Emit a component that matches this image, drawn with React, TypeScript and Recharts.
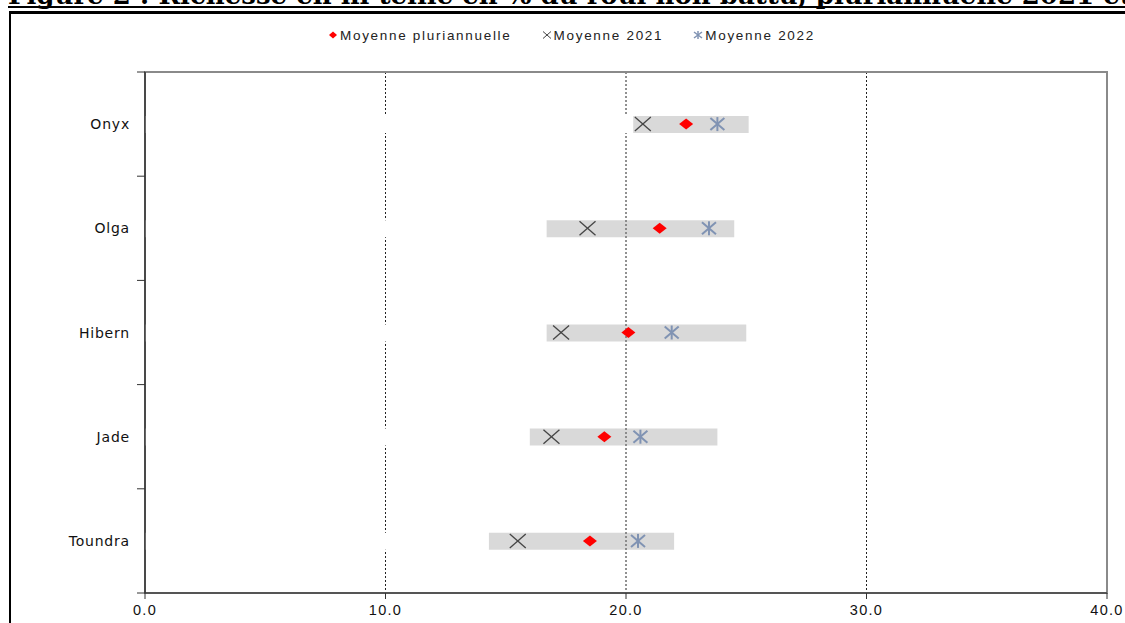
import React from 'react';
import { ComposedChart, Bar, Line, XAxis, YAxis, CartesianGrid, ReferenceArea } from 'recharts';

const categories = ['Onyx', 'Olga', 'Hibern', 'Jade', 'Toundra'];
const minValues = [20.3, 16.7, 16.7, 16.0, 14.3];
const maxValues = [25.1, 24.5, 25.0, 23.8, 22.0];
const pluriValues = [22.5, 21.4, 20.1, 19.1, 18.5];
const m2021Values = [20.7, 18.4, 17.3, 16.9, 15.5];
const m2022Values = [23.8, 23.45, 21.9, 20.6, 20.5];
const xTicks = [0, 10, 20, 30, 40];

const legendLabels = ['Moyenne pluriannuelle', 'Moyenne 2021', 'Moyenne 2022'];
const titleText = 'Figure 2 : Richesse en fil teillé en % du roui non battu, pluriannuelle 2021 et 2022';

const data = categories.map((c, i) => ({
  name: c,
  base: minValues[i],
  range: +(maxValues[i] - minValues[i]).toFixed(2),
  pluri: pluriValues[i],
  m2021: m2021Values[i],
  m2022: m2022Values[i],
}));

const W = 1125;
const H = 623;
const MARGIN = { top: 72, right: 18, bottom: 0, left: 10 };
const XAXIS_H = 30;
const BAND = (H - MARGIN.top - MARGIN.bottom - XAXIS_H) / categories.length;

const STAR_COLOR = '#8093b3';
const X_COLOR = '#454545';

const DiamondDot = (p: any) => {
  const { cx, cy } = p;
  if (cx == null || cy == null) return null;
  return <polygon points={`${cx - 7},${cy} ${cx},${cy - 5.5} ${cx + 7},${cy} ${cx},${cy + 5.5}`} fill="#ff0000" />;
};

const CrossDot = (p: any) => {
  const { cx, cy } = p;
  if (cx == null || cy == null) return null;
  return (
    <g stroke={X_COLOR} strokeWidth={1.3}>
      <line x1={cx - 8} y1={cy - 7} x2={cx + 8} y2={cy + 7} />
      <line x1={cx - 8} y1={cy + 7} x2={cx + 8} y2={cy - 7} />
    </g>
  );
};

const StarDot = (p: any) => {
  const { cx, cy } = p;
  if (cx == null || cy == null) return null;
  return (
    <g stroke={STAR_COLOR} strokeWidth={2}>
      <line x1={cx} y1={cy - 7} x2={cx} y2={cy + 7} />
      <line x1={cx - 7} y1={cy - 6} x2={cx + 7} y2={cy + 6} />
      <line x1={cx - 7} y1={cy + 6} x2={cx + 7} y2={cy - 6} />
    </g>
  );
};

const YTick = (p: any) => {
  const { x, y, payload, index } = p;
  const half = BAND / 2;
  return (
    <g>
      <text
        x={x}
        y={y}
        dy={5}
        textAnchor="end"
        fontFamily="'DejaVu Sans', sans-serif"
        fontSize={14}
        letterSpacing={0.8}
        fill="#111"
      >
        {payload.value}
      </text>
      <line x1={x + 7} x2={x + 15} y1={y - half} y2={y - half} stroke="#333" strokeWidth={1} />
      {index === categories.length - 1 ? (
        <line x1={x + 7} x2={x + 15} y1={y + half} y2={y + half} stroke="#333" strokeWidth={1} />
      ) : null}
    </g>
  );
};

const LegendIcon = ({ kind }: { kind: number }) => {
  if (kind === 0)
    return (
      <svg width={10} height={10}>
        <polygon points="1,5 5,1.5 9,5 5,8.5" fill="#ff0000" />
      </svg>
    );
  if (kind === 1)
    return (
      <svg width={10} height={10}>
        <g stroke={X_COLOR} strokeWidth={1}>
          <line x1={1} y1={1.5} x2={9} y2={8.5} />
          <line x1={1} y1={8.5} x2={9} y2={1.5} />
        </g>
      </svg>
    );
  return (
    <svg width={10} height={10}>
      <g stroke={STAR_COLOR} strokeWidth={1.5}>
        <line x1={5} y1={1} x2={5} y2={9} />
        <line x1={1} y1={2} x2={9} y2={8} />
        <line x1={1} y1={8} x2={9} y2={2} />
      </g>
    </svg>
  );
};

export default function App() {
  return (
    <div style={{ position: 'absolute', left: 0, top: 0, width: W, height: H, overflow: 'hidden', background: '#fff' }}>
      <svg style={{ position: 'absolute', left: 0, top: 0 }} width={W} height={12}>
        <text x={8} y={4} fontFamily="'DejaVu Serif', serif" fontWeight="bold" fontSize={26} fill="#000">
          {titleText}
        </text>
        <rect x={8} y={6} width={W} height={2} fill="#000" />
      </svg>
      <div style={{ position: 'absolute', left: 9, top: 11, width: W, height: 3, background: '#000' }} />
      <div style={{ position: 'absolute', left: 9, top: 11, width: 2, height: H, background: '#000' }} />
      <div
        style={{
          position: 'absolute',
          left: 0,
          top: 26,
          width: W,
          display: 'flex',
          justifyContent: 'center',
          alignItems: 'center',
          fontFamily: "'Liberation Sans', Arial, sans-serif",
          fontSize: 13.5,
          letterSpacing: 1.7,
          color: '#222',
          zIndex: 2,
          paddingLeft: 18,
          boxSizing: 'border-box',
        }}
      >
        {legendLabels.map((l, i) => (
          <div key={l} style={{ display: 'flex', alignItems: 'center', marginRight: i < 2 ? 30 : 0, height: 18 }}>
            <LegendIcon kind={i} />
            <span style={{ marginLeft: 2 }}>{l}</span>
          </div>
        ))}
      </div>
      <div style={{ position: 'absolute', left: 0, top: 0 }}>
        <ComposedChart width={W} height={H} data={data} layout="vertical" margin={MARGIN}>
          <CartesianGrid horizontal={false} vertical stroke="#222" strokeDasharray="2 2" />
          <ReferenceArea x1={0} x2={40} fill="none" stroke="#8a8a8a" strokeWidth={2} ifOverflow="visible" />
          <XAxis
            type="number"
            domain={[0, 40]}
            ticks={xTicks}
            height={XAXIS_H}
            tickFormatter={(v: number) => v.toFixed(1)}
            tick={{ fontFamily: "'Liberation Sans', Arial, sans-serif", fontSize: 14.5, fill: '#111', letterSpacing: 1.3 }}
            tickSize={6}
            tickMargin={6}
            stroke="#555"
            axisLine={{ stroke: '#555', strokeWidth: 2 }}
            tickLine={{ stroke: '#333' }}
            allowDataOverflow
          />
          <YAxis
            type="category"
            dataKey="name"
            width={135}
            tick={<YTick />}
            tickLine={false}
            tickSize={8}
            tickMargin={7}
            axisLine={{ stroke: '#333', strokeWidth: 1.5 }}
          />
          <Bar dataKey="base" stackId="a" fill="#ffffff" barSize={17} isAnimationActive={false} />
          <Bar dataKey="range" stackId="a" fill="#808080" fillOpacity={0.3} barSize={17} isAnimationActive={false} />
          <Line dataKey="m2021" stroke="none" dot={<CrossDot />} activeDot={false} isAnimationActive={false} />
          <Line dataKey="pluri" stroke="none" dot={<DiamondDot />} activeDot={false} isAnimationActive={false} />
          <Line dataKey="m2022" stroke="none" dot={<StarDot />} activeDot={false} isAnimationActive={false} />
        </ComposedChart>
      </div>
    </div>
  );
}
